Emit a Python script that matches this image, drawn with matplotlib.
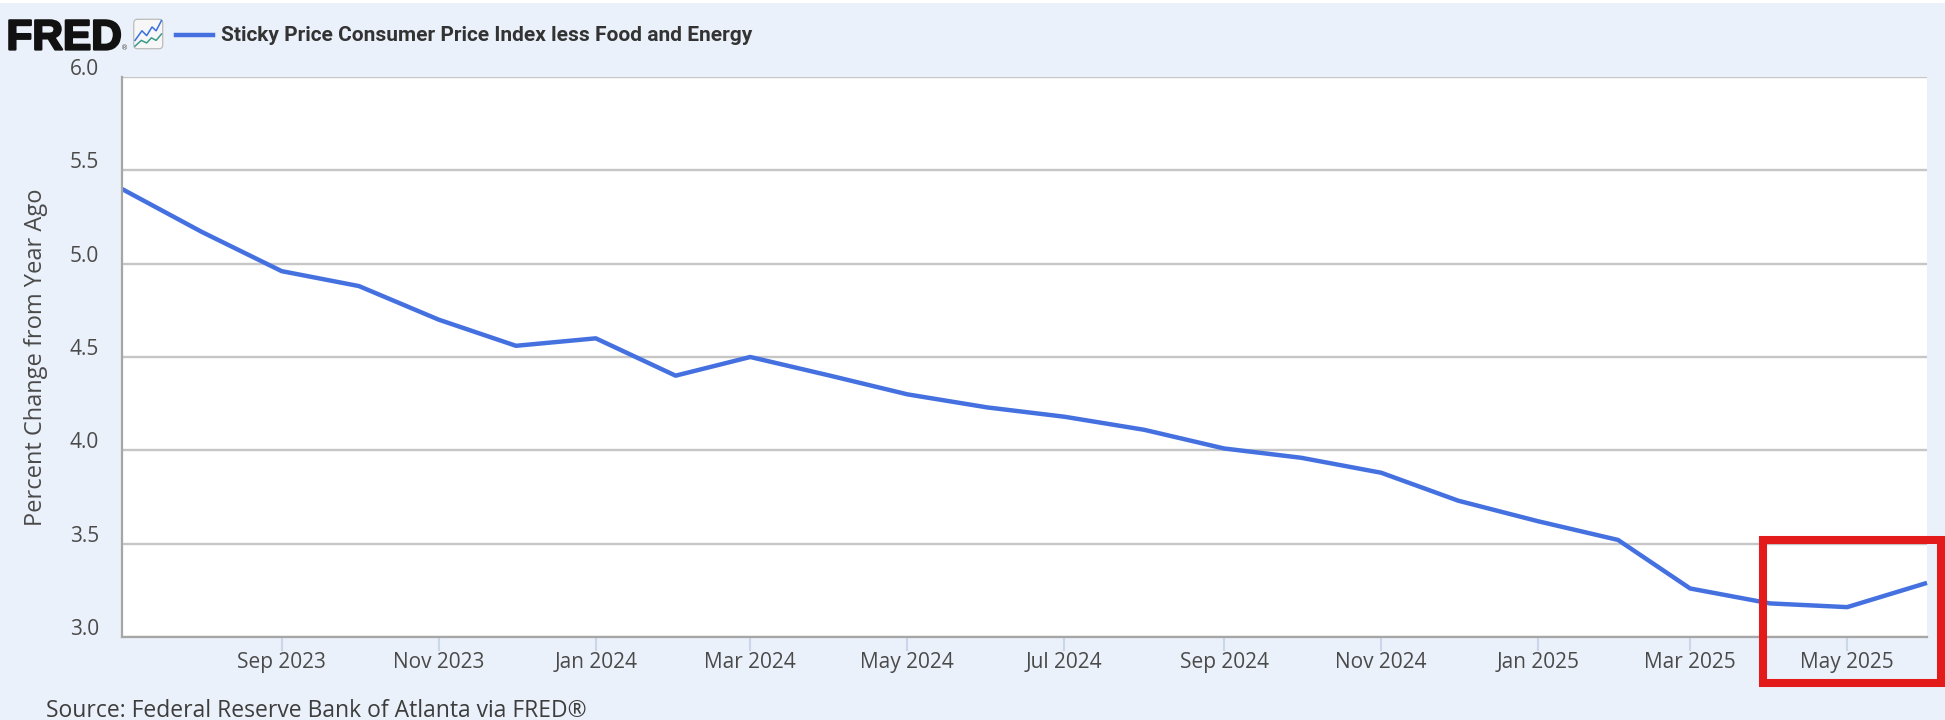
import matplotlib
matplotlib.use("Agg")
import matplotlib.pyplot as plt
import matplotlib.patheffects as pe
from matplotlib.transforms import ScaledTranslation
from matplotlib.patches import Rectangle, FancyBboxPatch
import pandas as pd

# ---------------- data ----------------
months = ["2023-07-01", "2023-08-01", "2023-09-01", "2023-10-01", "2023-11-01", "2023-12-01",
          "2024-01-01", "2024-02-01", "2024-03-01", "2024-04-01", "2024-05-01", "2024-06-01",
          "2024-07-01", "2024-08-01", "2024-09-01", "2024-10-01", "2024-11-01", "2024-12-01",
          "2025-01-01", "2025-02-01", "2025-03-01", "2025-04-01", "2025-05-01", "2025-06-01"]
values = [5.40, 5.17, 4.96, 4.88, 4.70, 4.56,
          4.60, 4.40, 4.50, 4.40, 4.30, 4.23,
          4.18, 4.11, 4.01, 3.96, 3.88, 3.73,
          3.62, 3.52, 3.26, 3.18, 3.16, 3.29]
series_name = "Sticky Price Consumer Price Index less Food and Energy"
tick_dates = ["2023-09-01", "2023-11-01", "2024-01-01", "2024-03-01", "2024-05-01", "2024-07-01",
              "2024-09-01", "2024-11-01", "2025-01-01", "2025-03-01", "2025-05-01"]
tick_labels = ["Sep 2023", "Nov 2023", "Jan 2024", "Mar 2024", "May 2024", "Jul 2024",
               "Sep 2024", "Nov 2024", "Jan 2025", "Mar 2025", "May 2025"]
y_ticks = [3.0, 3.5, 4.0, 4.5, 5.0, 5.5, 6.0]
y_label = "Percent Change from Year Ago"
source = "Source: Federal Reserve Bank of Atlanta via FRED\u00ae"

# ---------------- style ----------------
W, H, DPI = 1945, 720, 100
BG = "#ebf1fa"
LINE = "#4571e0"
TXT = "#4a4a4a"

fig = plt.figure(figsize=(W / DPI, H / DPI), dpi=DPI, facecolor=BG)
fig.patches.append(Rectangle((0, 1 - 3 / H), 1, 3 / H, transform=fig.transFigure,
                             facecolor="white", edgecolor="none"))

L, R, T, B = 122, 1927, 77, 637
ax = fig.add_axes([L / W, 1 - B / H, (R - L) / W, (B - T) / H])
ax.set_facecolor("white")

x = pd.to_datetime(months)
ax.plot(x, values, color=LINE, lw=3.2, solid_joinstyle="round", solid_capstyle="butt",
        zorder=3, clip_on=False)

ax.set_xlim(x[0], x[-1])
ax.set_ylim(y_ticks[0], y_ticks[-1])
ax.set_yticks(y_ticks)
ax.set_yticklabels([f"{v:.1f}" for v in y_ticks])
ax.set_xticks(pd.to_datetime(tick_dates))
ax.set_xticklabels(tick_labels)

ax.grid(axis="y", color="#c6c6c6", lw=1.7, zorder=1)
ax.grid(axis="x", visible=False)
for s in ["top", "right"]:
    ax.spines[s].set_visible(False)
for s in ["left", "bottom"]:
    ax.spines[s].set_color("#a6a6a6")
    ax.spines[s].set_linewidth(1.6)
    ax.spines[s].set_zorder(4)

ax.tick_params(axis="y", length=0, pad=23 * 72 / DPI, labelsize=15, labelcolor=TXT)
ax.tick_params(axis="x", length=10, width=1.5, color="#ccd6eb", pad=0.5,
               labelsize=15, labelcolor=TXT)
for lab in ax.get_yticklabels():
    lab.set_fontfamily("Open Sans")
    lab.set_verticalalignment("baseline")
    lab.set_transform(lab.get_transform() + ScaledTranslation(0, 2 / DPI, fig.dpi_scale_trans))
for lab in ax.get_xticklabels():
    lab.set_fontfamily("Open Sans")

fig.text(36 / W, 1 - 357 / H, y_label, rotation=90, ha="center", va="center",
         fontsize=17, color=TXT, family="Open Sans")

# source
fig.text(46 / W, 1 - 717 / H, source, ha="left", va="baseline", fontsize=16.5,
         color="#3d3d3d", family="Open Sans")

# FRED logo
fig.text(6.5 / W, 1 - 49.5 / H, "FRED", ha="left", va="baseline", fontsize=30.5,
         fontweight="heavy", family="Liberation Sans", color="#111111",
         path_effects=[pe.withStroke(linewidth=1.6, foreground="#111111")])
fig.text(121.5 / W, 1 - 50 / H, "\u00ae", ha="left", va="baseline", fontsize=5,
         color="#444444", family="DejaVu Sans")

# small chart icon
iax = fig.add_axes([132.5 / W, 1 - 50 / H, 31.5 / W, 32 / H])
iax.set_xlim(0, 1)
iax.set_ylim(0, 1)
iax.axis("off")
iax.add_patch(FancyBboxPatch((0.04, 0.04), 0.92, 0.92, boxstyle="round,pad=0,rounding_size=0.12",
                             facecolor="#f7f7f7", edgecolor="#b5b5b5", lw=0.8))
iax.plot([0.08, 0.3, 0.45, 0.62, 0.75, 0.92], [0.3, 0.6, 0.45, 0.72, 0.6, 0.92],
         color="#3b6fe0", lw=1.1)
iax.plot([0.08, 0.28, 0.45, 0.6, 0.75, 0.92], [0.12, 0.3, 0.22, 0.38, 0.3, 0.5],
         color="#3a9a8a", lw=1.1)

# legend line + label
fig.lines.append(plt.Line2D([176 / W, 213 / W], [1 - 35 / H, 1 - 35 / H], transform=fig.transFigure,
                            color=LINE, lw=3.2))
fig.text(221 / W, 1 - 40.7 / H, series_name, ha="left", va="baseline", fontsize=15,
         fontweight="bold", family="Roboto", color="#333333")

# red highlight rectangle
fig.patches.append(Rectangle((1763 / W, 1 - 683 / H), (1941 - 1763) / W, (683 - 540) / H,
                             transform=fig.transFigure, facecolor="none",
                             edgecolor="#e31b1b", lw=5.8, zorder=10))

fig.savefig("out.png", dpi=DPI, facecolor=BG)
